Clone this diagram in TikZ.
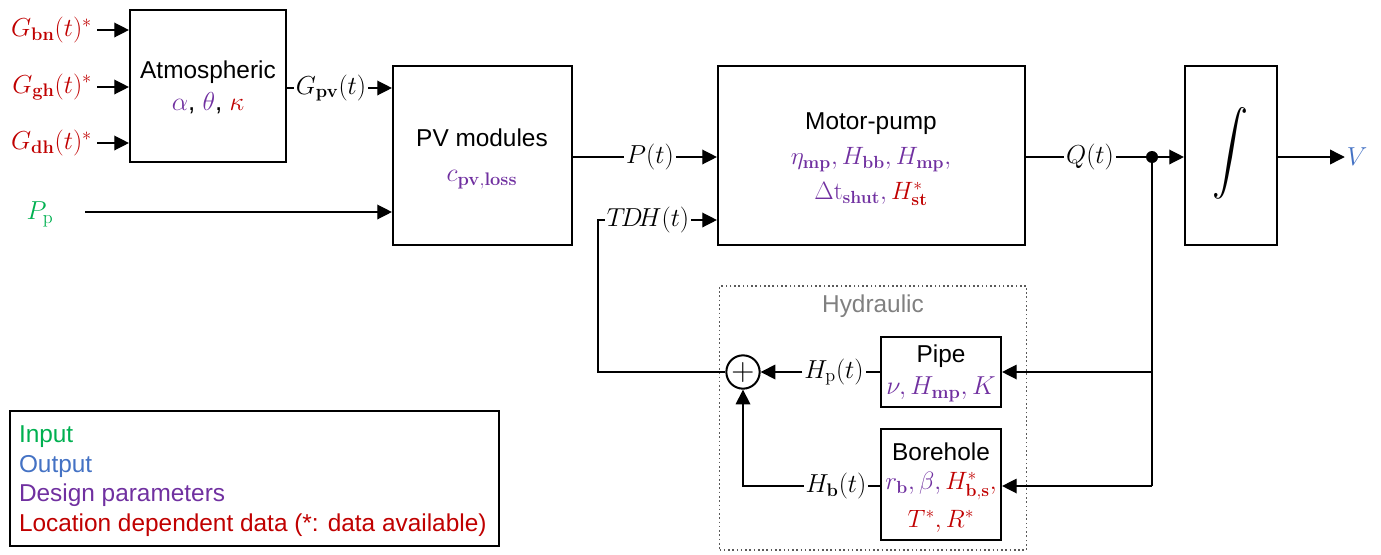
\documentclass[tikz,border=0pt]{standalone}
\usepackage{fix-cm}
\usepackage[no-math]{fontspec}
\setmainfont{Liberation Sans}
\usetikzlibrary{arrows.meta}
\definecolor{cred}{RGB}{192,0,0}
\definecolor{cpur}{RGB}{112,48,160}
\definecolor{cgrn}{RGB}{0,176,80}
\definecolor{cblu}{RGB}{68,114,196}
\definecolor{cgry}{RGB}{128,128,128}
\definecolor{cdot}{RGB}{90,90,90}
\begin{document}
\begin{tikzpicture}[x=0.75pt,y=-0.75pt,
  font=\fontsize{18.3}{22}\selectfont,
  mth/.style={font=\fontsize{19.5}{22}\selectfont},
  bmth/.style={font=\fontsize{18.8}{22}\selectfont},
  blk/.style={draw,line width=1.6pt,inner sep=0pt},
  txt/.style={inner sep=0pt,outer sep=0pt},
  lab/.style={mth,inner sep=1.5pt,outer sep=0pt},
  conn/.style={line width=1pt},
  arr/.style={line width=1pt,-{Triangle[length=11pt,width=11pt]}}]
\useasboundingbox (0,0) rectangle (1381,554);

% blocks
\node[blk,minimum width=117pt,minimum height=114pt] (atm) at (208,86) {};
\node[blk,minimum width=134.25pt,minimum height=134.25pt] (pv) at (482.5,155.5) {};
\node[blk,minimum width=230.25pt,minimum height=134.25pt] (mp) at (871.5,155.5) {};
\node[blk,minimum width=69pt,minimum height=134.25pt] (int) at (1231,155.5) {};
\node[draw=cdot,dotted,line width=1.2pt,minimum width=230.25pt,minimum height=198pt] (hyd) at (873,418) {};
\node[blk,minimum width=90pt,minimum height=52.5pt] (pipe) at (941,372) {};
\node[blk,minimum width=90pt,minimum height=83.25pt] (bore) at (941,484.5) {};
\node[blk,minimum width=366.75pt,minimum height=101.25pt] (leg) at (254.5,478.5) {};
\node[draw,circle,line width=1.5pt,minimum size=25pt,inner sep=0pt] (sum) at (743,372) {};
\node[txt,font=\fontsize{24}{24}\selectfont] (plus) at (sum.center) {$+$};
\node[fill,circle,inner sep=0pt,minimum size=9pt] (dot) at (1152,157) {};

% block texts
\node[txt] (atmT) at (208,72) {Atmospheric};
\node[txt,mth] (atmP) at (208,103) {$\color{cpur}\alpha$, $\color{cpur}\theta$, $\color{cred}\kappa$};
\node[txt] (pvT) at (482,138) {PV modules};
\node[txt,mth,text=cpur] (pvP) at (482,180) {$c_{\mathbf{pv,loss}}$};
\node[txt] (mpT) at (871,124) {Motor-pump};
\node[txt,bmth,text=cpur] (mpP1) at (871,160) {$\eta_{\mathbf{mp}}, H_{\mathbf{bb}}, H_{\mathbf{mp}},$};
\node[txt,bmth] (mpP2) at (871,194) {$\color{cpur}\Delta\mathrm{t}_{\mathbf{shut}}, \color{cred}H^{*}_{\mathbf{st}}$};
\node[txt] (intT) at (1230,153) {\scalebox{2.7}[3.1]{$\displaystyle\int$}};
\node[txt,text=cgry] (hydT) at (873,306) {Hydraulic};
\node[txt] (pipeT) at (941,356) {Pipe};
\node[txt,mth,text=cpur] (pipeP) at (941,389) {$\nu, H_{\mathbf{mp}}, K$};
\node[txt] (boreT) at (941,452) {Borehole};
\node[txt,bmth] (boreP1) at (941,486) {$\color{cpur}r_{\mathbf{b}}, \beta, \color{cred}H^{*}_{\mathbf{b,s}},$};
\node[txt,bmth,text=cred] (boreP2) at (941,521) {$T^{*}, R^{*}$};

% legend
\node[txt,anchor=west,align=left,font=\fontsize{18.3}{22.2}\selectfont] (legT) at (19,481) {%
  \textcolor{cgrn}{Input}\\
  \textcolor{cblu}{Output}\\
  \textcolor{cpur}{Design parameters}\\
  \textcolor{cred}{Location dependent data (*: data available)}};

% signal labels
\node[lab,anchor=east,text=cred] (gbn) at (94,30) {$G_{\mathbf{bn}}(t)^{*}$};
\node[lab,anchor=east,text=cred] (ggh) at (94,87) {$G_{\mathbf{gh}}(t)^{*}$};
\node[lab,anchor=east,text=cred] (gdh) at (94,143) {$G_{\mathbf{dh}}(t)^{*}$};
\node[lab] (gpv) at (331,88) {$G_{\mathbf{pv}}(t)$};
\node[lab,text=cgrn] (pp) at (40,214) {$P_{\mathrm{p}}$};
\node[lab] (pt) at (650,157) {$P(t)$};
\node[lab] (tdh) at (648,220) {$T\!D\!H(t)$};
\node[lab] (qt) at (1090,157) {$Q(t)$};
\node[lab,text=cblu] (vv) at (1357,157) {$V$};
\node[lab] (hp) at (834,372) {$H_{\mathrm{p}}(t)$};
\node[lab] (hb) at (836,486) {$H_{\mathbf{b}}(t)$};

\coordinate (ppstart) at (85,212);
\coordinate (tdhcorner) at (598,372);
\coordinate (hbcorner) at (743,486);
\coordinate (pipein) at (1152,372);
\coordinate (borein) at (1152,486);

% connectors
\draw[arr] (gbn.east) ++(3,0) -- (atm.west |- gbn.east);
\draw[arr] (ggh.east) ++(3,0) -- (atm.west |- ggh.east);
\draw[arr] (gdh.east) ++(3,0) -- (atm.west |- gdh.east);
\draw[conn] (atm.east |- gpv.west) -- (gpv.west);
\draw[arr] (gpv.east) -- (pv.west |- gpv.east);
\draw[arr] (ppstart) -- (pv.west |- ppstart);
\draw[conn] (pv.east |- pt.west) -- (pt.west);
\draw[arr] (pt.east) -- (mp.west |- pt.east);
\draw[arr] (tdh.east) -- (mp.west |- tdh.east);
\draw[conn] (sum.west) -- (tdhcorner) |- (tdh.west);
\draw[conn] (mp.east |- qt.west) -- (qt.west);
\draw[conn] (qt.east) -- (dot);
\draw[arr] (dot) -- (int.west |- dot);
\draw[arr] (int.east |- vv.west) -- (vv.west);
\draw[conn] (dot) -- (borein);
\draw[arr] (pipein) -- (pipe.east |- pipein);
\draw[arr] (borein) -- (bore.east |- borein);
\draw[conn] (pipe.west |- hp.east) -- (hp.east);
\draw[arr] (hp.west) -- (sum.east);
\draw[conn] (bore.west |- hb.east) -- (hb.east);
\draw[arr] (hb.west) -- (hbcorner) -- (sum.south);
\end{tikzpicture}
\end{document}
